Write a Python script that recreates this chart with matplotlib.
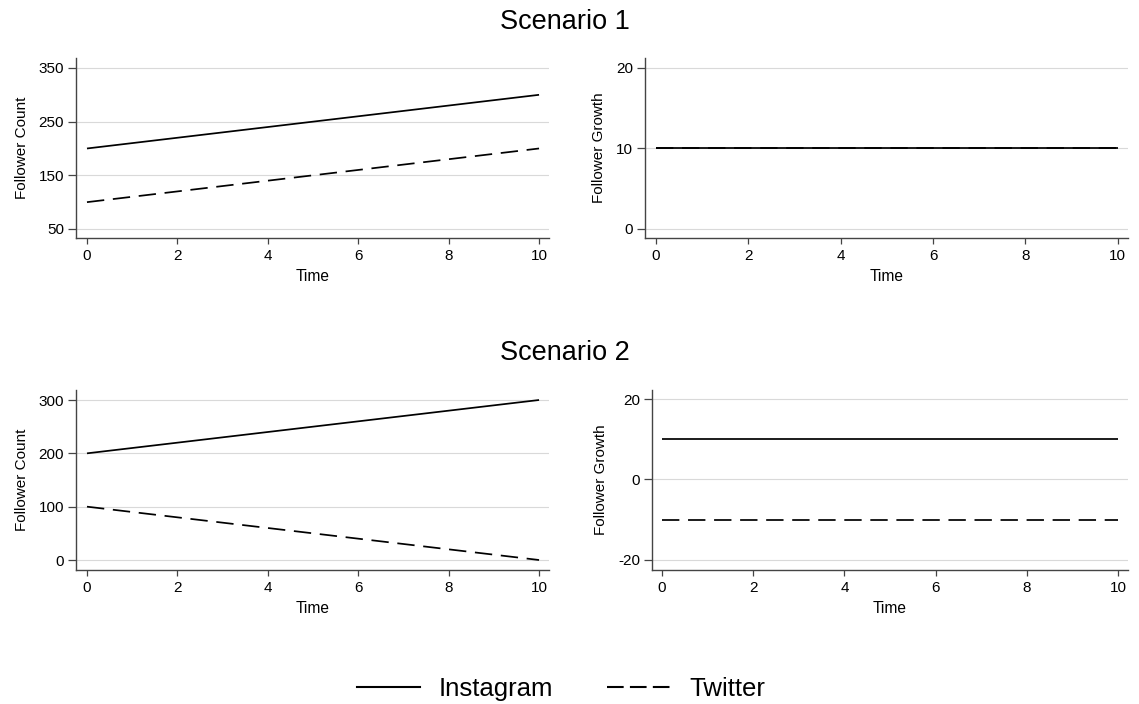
import matplotlib
matplotlib.use("Agg")
import matplotlib.pyplot as plt
from matplotlib.lines import Line2D

plt.rcParams['font.family'] = ['Liberation Sans', 'DejaVu Sans']
plt.rcParams['axes.unicode_minus'] = False

time = [0, 1, 2, 3, 4, 5, 6, 7, 8, 9, 10]
s1_insta_count = [200, 210, 220, 230, 240, 250, 260, 270, 280, 290, 300]
s1_twit_count = [100, 110, 120, 130, 140, 150, 160, 170, 180, 190, 200]
s1_insta_growth = [10, 10, 10, 10, 10, 10, 10, 10, 10, 10, 10]
s1_twit_growth = [10, 10, 10, 10, 10, 10, 10, 10, 10, 10, 10]
s2_insta_count = [200, 210, 220, 230, 240, 250, 260, 270, 280, 290, 300]
s2_twit_count = [100, 90, 80, 70, 60, 50, 40, 30, 20, 10, 0]
s2_insta_growth = [10, 10, 10, 10, 10, 10, 10, 10, 10, 10, 10]
s2_twit_growth = [-10, -10, -10, -10, -10, -10, -10, -10, -10, -10, -10]

xticks = [0, 2, 4, 6, 8, 10]
s1_count_ticks = [50, 150, 250, 350]
s1_growth_ticks = [0, 10, 20]
s2_count_ticks = [0, 100, 200, 300]
s2_growth_ticks = [-20, 0, 20]

W, H = 1139, 704
fig = plt.figure(figsize=(W / 100, H / 100), dpi=100)

def px_axes(l, t, r, b):
    return fig.add_axes([l / W, 1 - b / H, (r - l) / W, (b - t) / H])

LW = 1.25
DASH = (10, 5)
spine_col = '#444444'
grid_col = '#d9d9d9'

def style(ax, ylabel, yticks, ylim, xlim):
    ax.set_xlim(*xlim)
    ax.set_ylim(*ylim)
    ax.set_xticks(xticks)
    ax.set_yticks(yticks)
    for s in ['top', 'right']:
        ax.spines[s].set_visible(False)
    for s in ['left', 'bottom']:
        ax.spines[s].set_color(spine_col)
        ax.spines[s].set_linewidth(1.0)
    ax.tick_params(axis='y', direction='out', length=5.5, width=0.9,
                   color=spine_col, labelsize=11, pad=3)
    ax.tick_params(axis='x', direction='out', length=4, width=0.9,
                   color=spine_col, labelsize=11, pad=4)
    ax.yaxis.grid(True, color=grid_col, linewidth=0.8)
    ax.set_axisbelow(True)
    ax.set_xlabel('Time', fontsize=11.2, labelpad=4)
    ax.set_ylabel(ylabel, fontsize=11, labelpad=7)

def draw(ax, y1, y2):
    ax.plot(time, y1, color='black', linewidth=LW, solid_capstyle='butt')
    ax.plot(time, y2, color='black', linewidth=LW, linestyle=(0, DASH))

ax1 = px_axes(76, 58, 549, 238)
draw(ax1, s1_insta_count, s1_twit_count)
style(ax1, 'Follower Count', s1_count_ticks, (33.2, 368.6), (-0.243, 10.22))

ax2 = px_axes(645, 58, 1128, 238)
draw(ax2, s1_insta_growth, s1_twit_growth)
style(ax2, 'Follower Growth', s1_growth_ticks, (-1.12, 21.24), (-0.238, 10.22))

ax3 = px_axes(76, 390, 549, 570)
draw(ax3, s2_insta_count, s2_twit_count)
style(ax3, 'Follower Count', s2_count_ticks, (-18.75, 318.75), (-0.243, 10.22))

ax4 = px_axes(652, 390, 1128, 570)
draw(ax4, s2_insta_growth, s2_twit_growth)
style(ax4, 'Follower Growth', s2_growth_ticks, (-22.5, 22.24), (-0.22, 10.22))

fig.text(565 / W, 1 - 22 / H, 'Scenario 1', ha='center', va='center', fontsize=19.5)
fig.text(565 / W, 1 - 353 / H, 'Scenario 2', ha='center', va='center', fontsize=19.5)

handles = [Line2D([0], [0], color='black', linewidth=1.5),
           Line2D([0], [0], color='black', linewidth=1.5, linestyle=(0, (8, 3)))]
fig.legend(handles, ['Instagram', 'Twitter'], loc='center', ncol=2,
           bbox_to_anchor=(561 / W, 1 - 689 / H), frameon=False,
           fontsize=18.5, handlelength=2.45, handletextpad=0.73,
           columnspacing=2.1)

fig.savefig('out.png', dpi=100)
